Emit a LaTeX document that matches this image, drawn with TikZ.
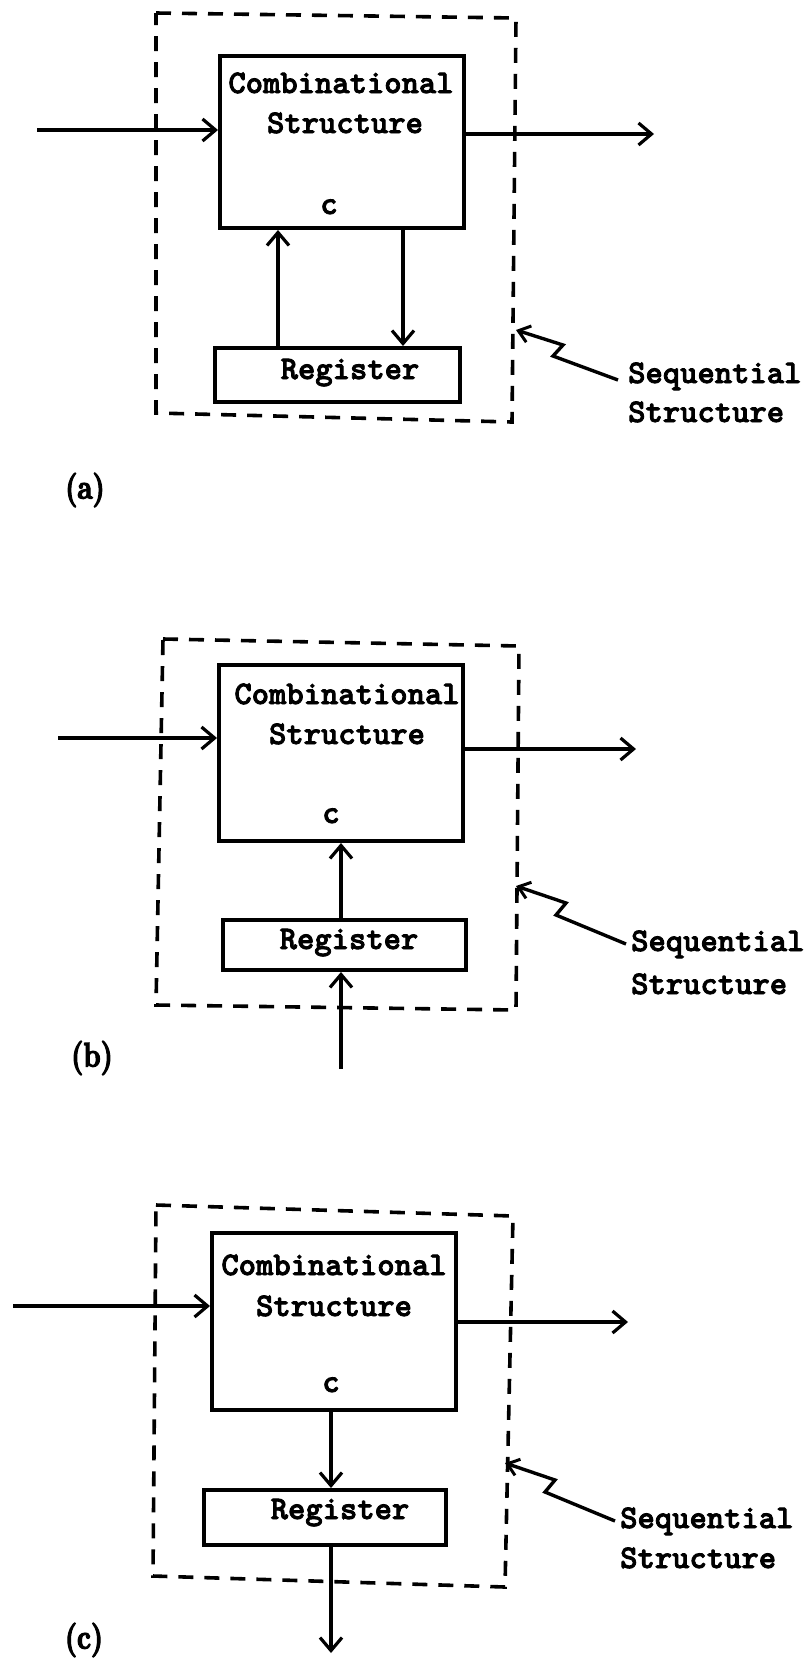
\documentclass[tikz,border=0pt]{standalone}
\usepackage{fontspec}
\newfontfamily\twfont{lmmonolt10-bold.otf}[FakeBold=2.5]
\newfontfamily\labfont{lmroman10-bold.otf}[FakeBold=4]
\usetikzlibrary{arrows.meta}
\begin{document}
\begin{tikzpicture}[x=1pt,y=-1pt,
  box/.style={draw, line width=4pt, inner sep=0pt},
  conn/.style={line width=3.4pt, -{Straight Barb[length=13pt,width=22pt,line width=3.2pt]}},
  lead/.style={line width=3.4pt, {Straight Barb[length=11pt,width=17pt,line width=3pt]}-},
  dashbox/.style={line width=3.6pt, dash pattern=on 15pt off 11pt},
  tw/.style={font=\fontsize{33}{36}\selectfont\twfont, inner sep=0pt, anchor=base},
  tws/.style={tw, anchor=base west},
  lab/.style={font=\fontsize{34}{36}\selectfont\labfont, inner sep=0pt}]
\useasboundingbox (0,0) rectangle (811,1663);
\fill[white] (0,0) rectangle (811,1663);

% ---------------- (a) ----------------
\draw[dashbox] (156,13) -- (516,18) -- (512,422) -- (156,413) -- cycle;
\node[box, minimum width=244pt, minimum height=172pt] (ca) at (342,142) {};
\node[box, minimum width=245pt, minimum height=54pt] (ra) at (337.5,375) {};
\node[tw] (ca1) at (341,93) {Combinational};
\node[tw] (ca2) at (345,133) {Structure};
\node[tw] (cac) at (329,214) {c};
\node[tw] (ral) at (350,379) {Register};
\coordinate (ina) at (37,130);
\coordinate (outa) at (654,134);
\draw[conn] (ina) -- (ina -| ca.west);
\draw[conn] (ca.east |- outa) -- (outa);
\draw[conn] (ra.north -| 278,0) -- (ca.south -| 278,0);
\draw[conn] (ca.south -| 403,0) -- (ra.north -| 403,0);
\node[tws] (sa1) at (628,383) {Sequential};
\node[tws] (sa2) at (628,422) {Structure};
\coordinate (tipa) at (516,330);
\draw[lead] (tipa) -- ++(47,15) -- ++(-10,11) -- ++(65,24);
\node[lab] (la) at (85,490) {\scalebox{0.8}[1]{(a)}};

% ---------------- (b) ----------------
\draw[dashbox] (163,639) -- (519,646) -- (516,1010) -- (156,1005) -- cycle;
\node[box, minimum width=244pt, minimum height=176pt] (cb) at (341,753) {};
\node[box, minimum width=243pt, minimum height=50pt] (rb) at (344.5,945) {};
\node[tw] (cb1) at (347,704) {Combinational};
\node[tw] (cb2) at (347,744) {Structure};
\node[tw] (cbc) at (331,823) {c};
\node[tw] (rbl) at (349,949) {Register};
\coordinate (inb) at (58,738);
\coordinate (outb) at (636,749);
\coordinate (botb) at (341,1069);
\draw[conn] (inb) -- (inb -| cb.west);
\draw[conn] (cb.east |- outb) -- (outb);
\draw[conn] (rb.north -| 341,0) -- (cb.south -| 341,0);
\draw[conn] (botb) -- (rb.south -| botb);
\node[tws] (sb1) at (631,951) {Sequential};
\node[tws] (sb2) at (631,994) {Structure};
\coordinate (tipb) at (516,886);
\draw[lead] (tipb) -- ++(50,17) -- ++(-10,12) -- ++(70,29);
\node[lab] (lb) at (92,1058) {\scalebox{0.8}[1]{(b)}};

% ---------------- (c) ----------------
\draw[dashbox] (156,1205) -- (513,1216) -- (505,1587) -- (153,1576) -- cycle;
\node[box, minimum width=244pt, minimum height=177pt] (cc) at (334,1321.5) {};
\node[box, minimum width=242pt, minimum height=55pt] (rc) at (325,1517.5) {};
\node[tw] (cc1) at (334,1275) {Combinational};
\node[tw] (cc2) at (334,1316) {Structure};
\node[tw] (ccc) at (331,1392) {c};
\node[tw] (rcl) at (340,1519) {Register};
\coordinate (inc) at (13,1306);
\coordinate (outc) at (628,1322);
\coordinate (botc) at (331,1653);
\draw[conn] (inc) -- (inc -| cc.west);
\draw[conn] (cc.east |- outc) -- (outc);
\draw[conn] (cc.south -| 331,0) -- (rc.north -| 331,0);
\draw[conn] (rc.south -| botc) -- (botc);
\node[tws] (sc1) at (620,1528) {Sequential};
\node[tws] (sc2) at (620,1568) {Structure};
\coordinate (tipc) at (505,1463);
\draw[lead] (tipc) -- ++(50,17) -- ++(-10,12) -- ++(70,29);
\node[lab] (lc) at (84,1640) {\scalebox{0.8}[1]{(c)}};
\end{tikzpicture}
\end{document}
